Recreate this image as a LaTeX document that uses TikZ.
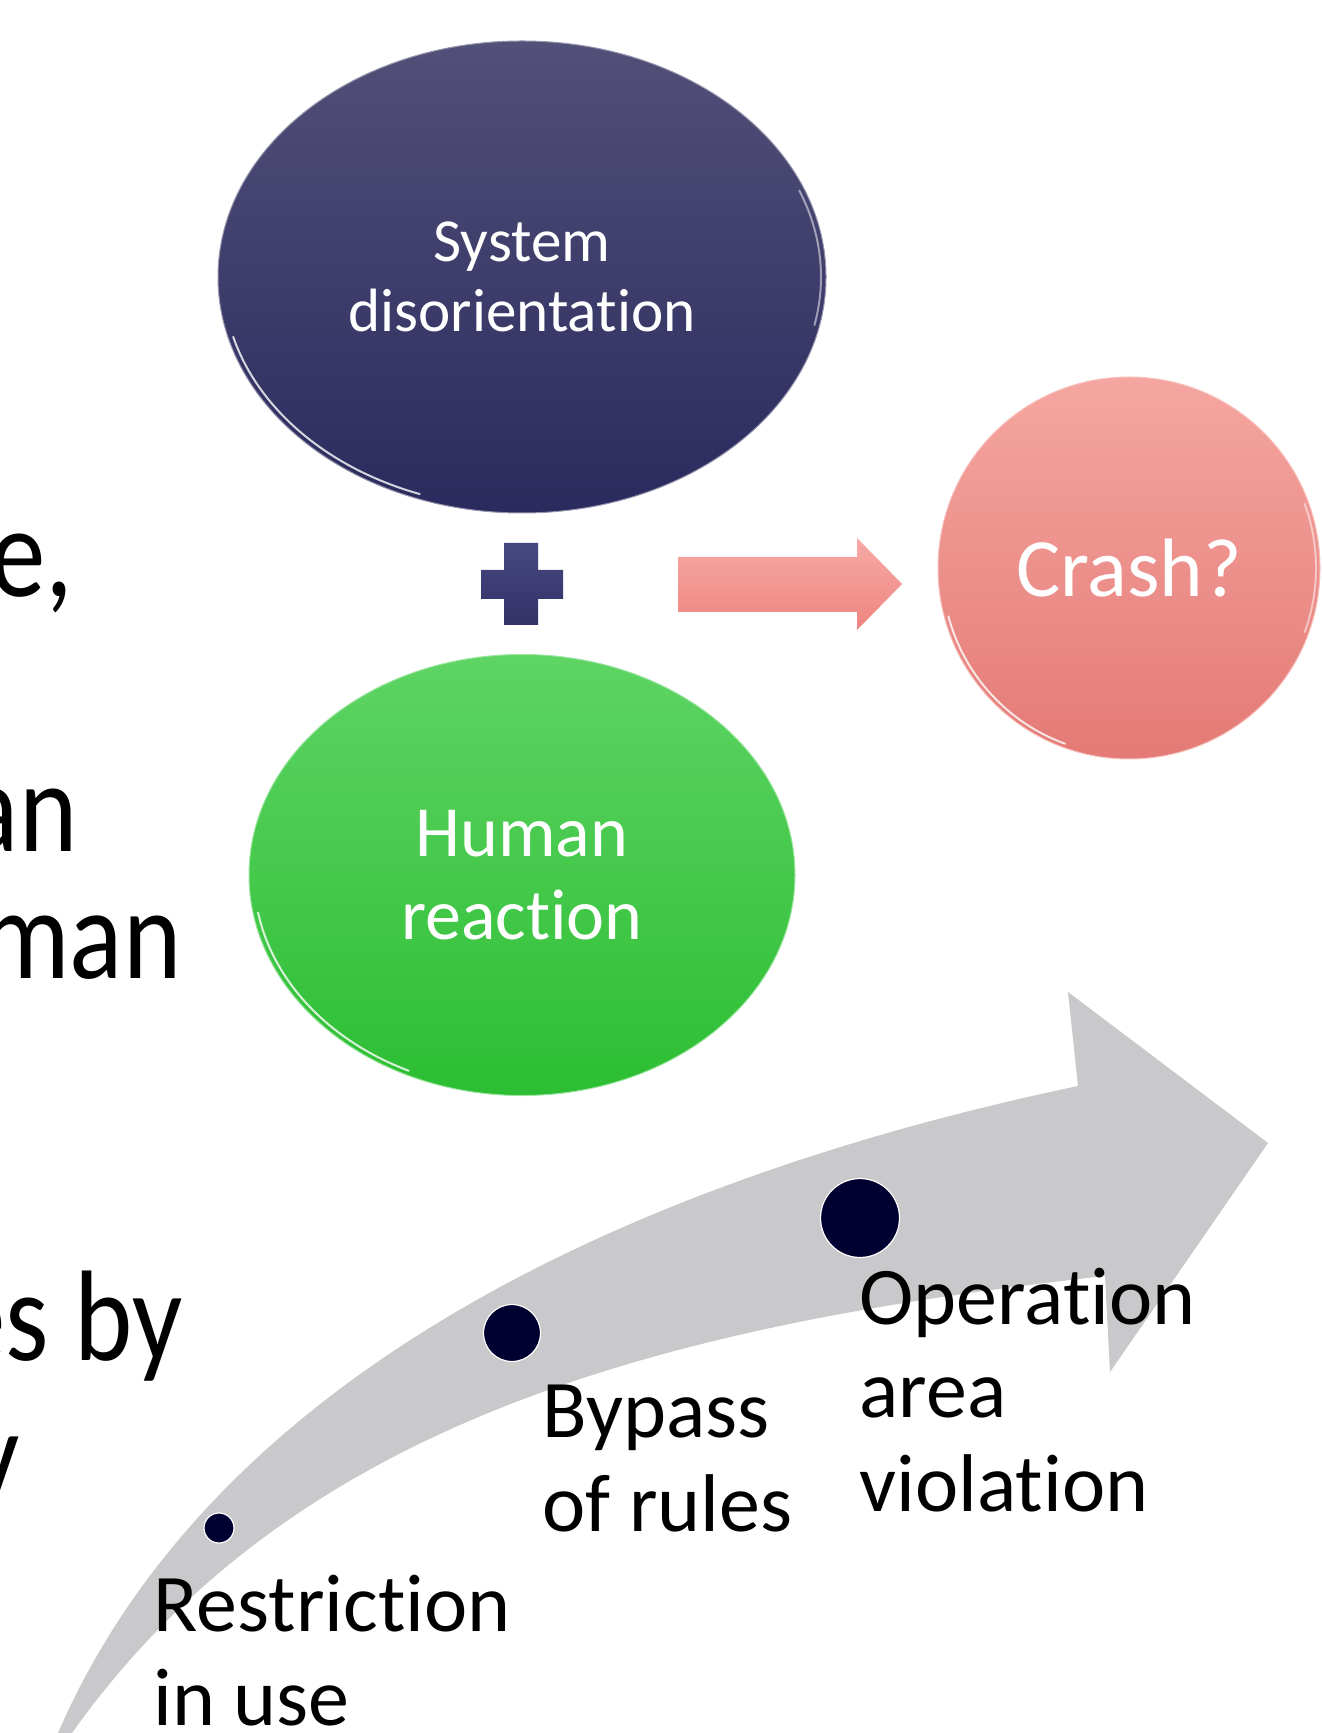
\documentclass[tikz,border=0pt]{standalone}
\usepackage{fontspec}
\setmainfont{Carlito}[RawFeature={-liga;-clig;-dlig;-calt}]
\usetikzlibrary{shapes.geometric}

\definecolor{sysTop}{RGB}{82,80,120}
\definecolor{sysBot}{RGB}{42,42,94}
\definecolor{humTop}{RGB}{94,212,100}
\definecolor{humBot}{RGB}{44,190,50}
\definecolor{crashTop}{RGB}{245,166,160}
\definecolor{crashBot}{RGB}{228,122,118}
\definecolor{arrTop}{RGB}{247,170,165}
\definecolor{arrBot}{RGB}{238,132,128}
\definecolor{plusTop}{RGB}{72,72,128}
\definecolor{plusBot}{RGB}{50,50,105}
\definecolor{tlGray}{RGB}{201,201,204}
\definecolor{dotCol}{RGB}{0,0,48}

% the running text on the left is set a little narrower
\newcommand\slimtext[1]{\scalebox{0.86}[1]{#1}}

\tikzset{
    bubble/.style={ellipse, inner sep=0pt, text=white, align=center},
    rim/.style={white, line width=0.02cm, opacity=0.8, line cap=round},
    tldot/.style={circle, inner sep=0pt, fill=dotCol, draw=white, line width=0.012cm},
    tllabel/.style={anchor=base west, inner sep=0pt, align=left,
        font=\fontsize{23.3}{26.5}\selectfont},
    sidetext/.style={anchor=base east, inner sep=0pt,
        font=\fontsize{36.7}{42}\selectfont}
}

\begin{document}
\begin{tikzpicture}
    \useasboundingbox[fill=white] (0,0) rectangle (13.21,-17.33);

    % text running in from the left
    \node[sidetext] (txta) at (0.74,-5.97) {\slimtext{e,}};
    \node[sidetext] (txtb) at (0.78,-8.51) {\slimtext{an}};
    \node[sidetext] (txtc) at (1.82,-9.78) {\slimtext{man}};
    \node[sidetext] (txtd) at (1.83,-13.60) {\slimtext{es by}};
    \node[sidetext] (txte) at (0.20,-14.98) {\slimtext{y}};

    % timeline arrow
    \fill[tlGray] (0.58,-17.33) .. controls (2.25,-13.48) and (6.87,-11.68) .. (10.78,-10.86)
        -- (10.68,-9.92) -- (12.68,-11.43) -- (11.10,-13.72) -- (11.05,-12.76)
        .. controls (6.58,-13.255) and (2.92,-14.23) .. (0.72,-17.33) -- cycle;

    \node[tldot, minimum size=0.30cm] (dota) at (2.19,-15.28) {};
    \node[tldot, minimum size=0.57cm] (dotb) at (5.12,-13.33) {};
    \node[tldot, minimum size=0.79cm] (dotc) at (8.60,-12.18) {};

    % labels are placed by the baseline of their last line
    \node[tllabel] (restrict) at (1.53,-17.25) {Restriction\\in use};
    \node[tllabel] (bypass) at (5.42,-15.31) {Bypass\\of rules};
    \node[tllabel] (operation) at (8.59,-15.11) {Operation\\area\\violation};

    % the three bubbles
    \node[bubble, minimum width=6.08cm, minimum height=4.72cm,
        top color=sysTop, bottom color=sysBot, draw=sysTop!60!white, line width=0.01cm,
        font=\fontsize{17.4}{19.9}\selectfont] (system) at (5.22,-2.77) {System\\disorientation};
    \draw[rim] ([shift={(195:2.99 and 2.31)}]system.center) arc[start angle=195, end angle=250, x radius=2.99, y radius=2.31];
    \draw[rim, opacity=0.5] ([shift={(-12:2.99 and 2.31)}]system.center) arc[start angle=-12, end angle=22, x radius=2.99, y radius=2.31];

    \node[bubble, minimum width=5.46cm, minimum height=4.41cm,
        top color=humTop, bottom color=humBot, draw=humTop!60!white, line width=0.01cm,
        font=\fontsize{20.5}{23.6}\selectfont] (human) at (5.22,-8.75) {Human\\reaction};
    \draw[rim] ([shift={(190:2.68 and 2.16)}]human.center) arc[start angle=190, end angle=245, x radius=2.68, y radius=2.16];

    \node[bubble, circle, minimum size=3.82cm,
        top color=crashTop, bottom color=crashBot, draw=crashTop!70!white, line width=0.01cm,
        font=\fontsize{23.6}{27}\selectfont] (crash) at (11.29,-5.68) {Crash?};
    \draw[rim] ([shift={(195:1.87)}]crash.center) arc[start angle=195, end angle=250, radius=1.87];
    \draw[rim, opacity=0.5] ([shift={(-20:1.87)}]crash.center) arc[start angle=-20, end angle=20, radius=1.87];

    % plus sign and block arrow
    \shade[top color=plusTop, bottom color=plusBot] (5.04,-5.43) -- (5.38,-5.43) -- (5.38,-5.70)
        -- (5.63,-5.70) -- (5.63,-5.99) -- (5.38,-5.99) -- (5.38,-6.25) -- (5.04,-6.25)
        -- (5.04,-5.99) -- (4.81,-5.99) -- (4.81,-5.70) -- (5.04,-5.70) -- cycle;
    \shade[top color=arrTop, bottom color=arrBot] (6.78,-5.57) -- (8.57,-5.57) -- (8.57,-5.38)
        -- (9.02,-5.84) -- (8.57,-6.30) -- (8.57,-6.12) -- (6.78,-6.12) -- cycle;
\end{tikzpicture}
\end{document}
